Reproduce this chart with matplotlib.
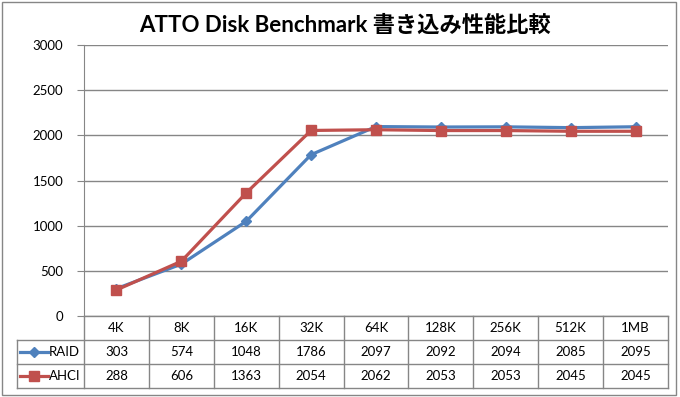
import matplotlib.pyplot as plt
from matplotlib.lines import Line2D
from matplotlib.patches import Rectangle

plt.rcParams['font.family'] = ['Lato', 'Noto Sans CJK JP', 'DejaVu Sans']

categories = ['4K', '8K', '16K', '32K', '64K', '128K', '256K', '512K', '1MB']
raid = [303, 574, 1048, 1786, 2097, 2092, 2094, 2085, 2095]
ahci = [288, 606, 1363, 2054, 2062, 2053, 2053, 2045, 2045]
y_ticks = [0, 500, 1000, 1500, 2000, 2500, 3000]
title = 'ATTO Disk Benchmark 書き込み性能比較'

W, H = 680, 397
GRID = '#868686'
BLUE = '#4F81BD'
RED = '#C0504D'

fig = plt.figure(figsize=(W / 100, H / 100), dpi=100)

# plot area in pixels
px0, px1 = 84, 668
py_top, py_bot = 45, 316
ax = fig.add_axes([px0 / W, 1 - py_bot / H, (px1 - px0) / W, (py_bot - py_top) / H])

x = list(range(len(categories)))
ax.plot(x, raid, color=BLUE, lw=2.3, marker='D', ms=5.5, mec=BLUE, mfc=BLUE, zorder=3)
ax.plot(x, ahci, color=RED, lw=2.3, marker='s', ms=7.5, mec=RED, mfc=RED, zorder=4)

ax.set_xlim(-0.5, len(categories) - 0.5)
ax.set_ylim(0, 3000)
ax.set_yticks(y_ticks)
ax.set_yticklabels([str(v) for v in y_ticks], fontsize=9.5)
ax.set_xticks([])
ax.yaxis.grid(True, color=GRID, lw=1)
ax.set_axisbelow(True)
for s in ['top', 'right', 'bottom']:
    ax.spines[s].set_visible(False)
ax.spines['left'].set_color(GRID)
ax.tick_params(axis='y', length=5, color=GRID, pad=10)

# data table below the plot
tx0 = 17
row_h = 24
rows_y = [py_bot, py_bot + row_h, py_bot + 2 * row_h, py_bot + 3 * row_h]
tax = fig.add_axes([0, 0, 1, 1])
tax.set_xlim(0, W)
tax.set_ylim(H, 0)
tax.axis('off')
col_w = (px1 - px0) / len(categories)

def hline(y, xa, xb):
    tax.add_line(Line2D([xa, xb], [y, y], color=GRID, lw=1))

def vline(xp, ya, yb):
    tax.add_line(Line2D([xp, xp], [ya, yb], color=GRID, lw=1))

hline(rows_y[0], px0, px1)
for y in rows_y[1:]:
    hline(y, tx0, px1)
vline(tx0, rows_y[1], rows_y[3])
for k in range(len(categories) + 1):
    vline(px0 + k * col_w, rows_y[0], rows_y[3])

for k, c in enumerate(categories):
    cx = px0 + (k + 0.5) * col_w
    tax.text(cx, (rows_y[0] + rows_y[1]) / 2, c, ha='center', va='center', fontsize=9.5)
    tax.text(cx, (rows_y[1] + rows_y[2]) / 2, str(raid[k]), ha='center', va='center', fontsize=9.5)
    tax.text(cx, (rows_y[2] + rows_y[3]) / 2, str(ahci[k]), ha='center', va='center', fontsize=9.5)

series = [('RAID', BLUE, 'D', 5.5), ('AHCI', RED, 's', 7.5)]
for i, (name, col, mk, ms) in enumerate(series):
    yc = (rows_y[i + 1] + rows_y[i + 2]) / 2
    tax.add_line(Line2D([20, 48], [yc, yc], color=col, lw=2.3))
    tax.plot([34], [yc], marker=mk, ms=ms, color=col)
    tax.text(49, yc, name, ha='left', va='center', fontsize=9.5)

tax.add_patch(Rectangle((2, 2), W - 6, H - 4, fill=False, ec=GRID, lw=1))

fig.text(345 / W, 1 - 25 / H, title, ha='center', va='center', fontsize=16,
         fontweight='bold', family=['Lato', 'Noto Sans CJK JP', 'DejaVu Sans'])

fig.savefig('out.png', dpi=100)
